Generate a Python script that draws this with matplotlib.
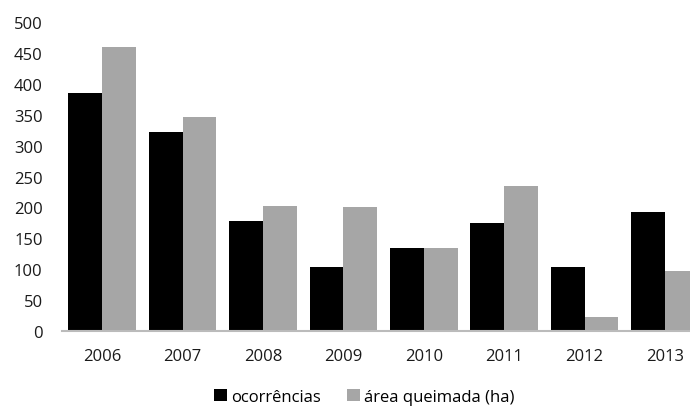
import numpy as np
import matplotlib
matplotlib.use("Agg")
import matplotlib.pyplot as plt

anos = ["2006", "2007", "2008", "2009", "2010", "2011", "2012", "2013"]
ocorrencias = [385, 322, 178, 104, 134, 174, 104, 193]
area_queimada = [460, 347, 202, 201, 135, 234, 22, 97]

plt.rcParams['font.family'] = ['Open Sans', 'DejaVu Sans']

fig = plt.figure(figsize=(6.9, 4.1), dpi=100)
# the original is cropped on the right, so the axes run past the edge
ax = fig.add_axes([0.0899, 0.1902, 0.932, 0.7537])

x = np.arange(len(anos))
w = 0.42
ax.bar(x - w/2, ocorrencias, w, color="black", label="ocorrências")
ax.bar(x + w/2, area_queimada, w, color="#a6a6a6", label="área queimada (ha)")

ax.set_xlim(-0.5, len(anos) - 0.5)
ax.set_ylim(0, 500)
ax.set_yticks(range(0, 501, 50))
ax.set_xticks(x)
ax.set_xticklabels(anos)
ax.tick_params(axis="both", length=0, labelsize=12, colors="#1a1a1a")
ax.tick_params(axis="x", pad=12)
ax.tick_params(axis="y", pad=14)
for s in ["top", "right", "left"]:
    ax.spines[s].set_visible(False)
ax.spines["bottom"].set_color("#bbbbbb")
ax.spines["bottom"].set_linewidth(1.5)

fig.legend(loc="center", bbox_to_anchor=(0.528, 0.03), ncol=2, frameon=False,
           fontsize=12, handlelength=0.75, handleheight=0.75, handletextpad=0.25,
           columnspacing=1.6)

fig.savefig("out.png", dpi=100)
